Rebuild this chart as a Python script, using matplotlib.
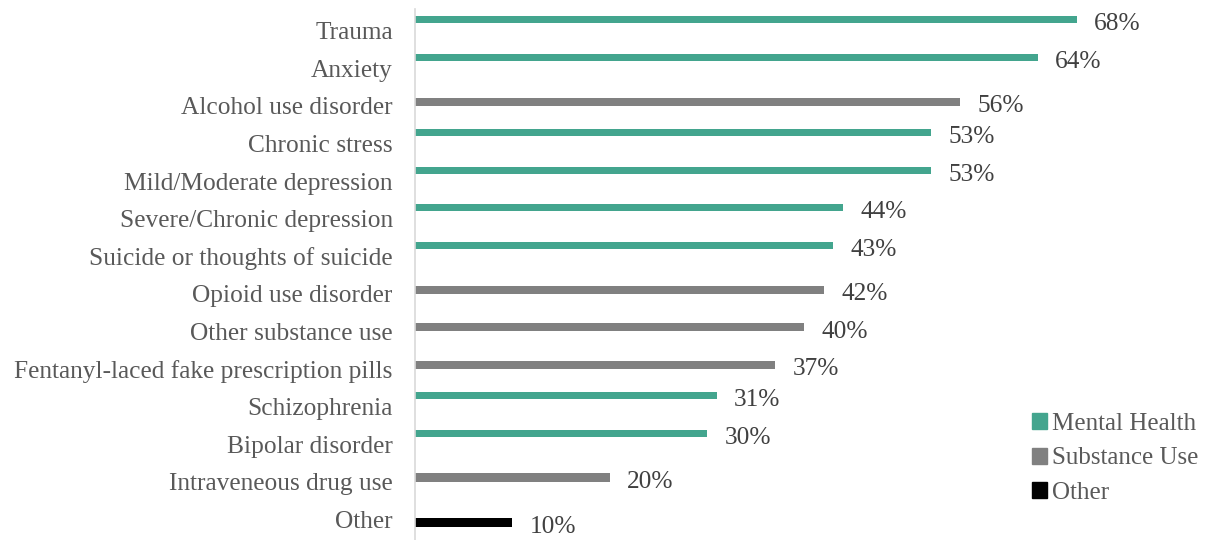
import matplotlib.pyplot as plt
from matplotlib.patches import Patch
import numpy as np

categories = ["Trauma", "Anxiety", "Alcohol use disorder", "Chronic stress",
              "Mild/Moderate depression", "Severe/Chronic depression",
              "Suicide or thoughts of suicide", "Opioid use disorder",
              "Other substance use", "Fentanyl-laced fake prescription pills",
              "Schizophrenia", "Bipolar disorder", "Intraveneous drug use", "Other"]
values = [68, 64, 56, 53, 53, 44, 43, 42, 40, 37, 31, 30, 20, 10]
groups = ["Mental Health", "Mental Health", "Substance Use", "Mental Health",
          "Mental Health", "Mental Health", "Mental Health", "Substance Use",
          "Substance Use", "Substance Use", "Mental Health", "Mental Health",
          "Substance Use", "Other"]
series = ["Mental Health", "Substance Use", "Other"]

colors = {"Mental Health": "#43A58E", "Substance Use": "#808080", "Other": "#000000"}
offsets = {"Mental Health": -0.29, "Substance Use": -0.11, "Other": 0.08}
heights = {"Mental Health": 0.19, "Substance Use": 0.22, "Other": 0.24}

plt.rcParams['font.family'] = ['Liberation Serif', 'DejaVu Serif']

fig = plt.figure(figsize=(12.05, 5.4), dpi=100)
ax = fig.add_axes([415 / 1205, 0.0, 1 - 415 / 1205, 1 - 9 / 540])

y = np.arange(len(categories))
for i, (v, g) in enumerate(zip(values, groups)):
    ax.barh(y[i] + offsets[g], v, height=heights[g], color=colors[g])
    ax.text(v + 1.8, y[i] + offsets[g] + 0.12, f"{v}%", va='center', ha='left',
            fontsize=18.3, color='#404040')

ax.set_yticks(y)
ax.set_yticklabels(categories, fontsize=18.3, color='#595959')
ax.tick_params(axis='y', length=0, pad=16)
ax.set_xticks([])
ax.set_xlim(0, 81.2)
ax.set_ylim(13.55, -0.58)
for s in ['top', 'right', 'bottom']:
    ax.spines[s].set_visible(False)
ax.spines['left'].set_color('#D9D9D9')
ax.spines['left'].set_linewidth(1.2)

handles = [Patch(color=colors[s]) for s in series]
leg = ax.legend(handles, series, loc='lower right', bbox_to_anchor=(1.014, 0.035),
                frameon=False, fontsize=18, handlelength=0.6, handleheight=0.6,
                handletextpad=0.2, labelspacing=0.5, borderaxespad=0.3)
for t in leg.get_texts():
    t.set_color('#595959')

fig.savefig("out.png", dpi=100)
